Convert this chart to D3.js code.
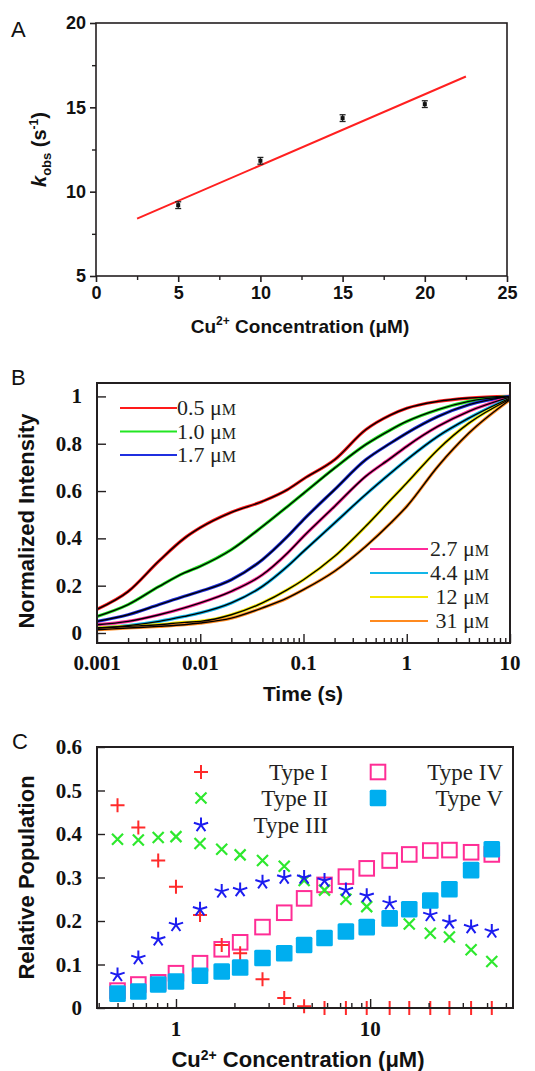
<!DOCTYPE html>
<html><head><meta charset="utf-8">
<script src="https://cdn.jsdelivr.net/npm/d3@7"></script>
<style>
html,body{margin:0;padding:0;background:#fff;}
svg{display:block;}
</style></head>
<body>
<svg id="chart" width="535" height="1071"></svg>
<script>
// ---------- Panel A data ----------
const aConc = [5, 10, 15, 20];
const aKobs = [9.2, 11.83, 14.36, 15.19];
const aErr = [0.2, 0.2, 0.2, 0.2];
const aFitX = [2.5, 22.5];
const aFitY = [8.40, 16.83];
const aXTicks = [0, 5, 10, 15, 20, 25];
const aYTicks = [5, 10, 15, 20];

// ---------- Panel B data ----------
const bTimes = [0.001, 0.002, 0.004, 0.007, 0.01, 0.02, 0.04, 0.07, 0.1, 0.2, 0.4, 0.7, 1, 2, 4, 10];
const bLabels = ["0.5", "1.0", "1.7", "2.7", "4.4", "12", "31"];
const bColors = ["#ff1a1a", "#22e622", "#1f2fe0", "#ff2a9a", "#12b6e8", "#f5e800", "#ff8a1f"];
const bCurve05 = [0.10, 0.175, 0.305, 0.40, 0.445, 0.51, 0.556, 0.606, 0.651, 0.732, 0.859, 0.922, 0.95, 0.979, 0.993, 1.0];
const bCurve10 = [0.07, 0.12, 0.197, 0.254, 0.282, 0.352, 0.45, 0.535, 0.59, 0.697, 0.796, 0.859, 0.894, 0.944, 0.979, 1.0];
const bCurve17 = [0.049, 0.077, 0.12, 0.155, 0.176, 0.225, 0.31, 0.408, 0.479, 0.606, 0.732, 0.803, 0.845, 0.915, 0.965, 1.0];
const bCurve27 = [0.035, 0.049, 0.077, 0.106, 0.127, 0.176, 0.246, 0.338, 0.408, 0.535, 0.662, 0.739, 0.789, 0.873, 0.937, 0.997];
const bCurve44 = [0.021, 0.031, 0.049, 0.07, 0.085, 0.127, 0.197, 0.282, 0.345, 0.465, 0.585, 0.676, 0.732, 0.831, 0.908, 0.993];
const bCurve12 = [0.021, 0.028, 0.035, 0.045, 0.049, 0.077, 0.127, 0.183, 0.225, 0.324, 0.451, 0.563, 0.634, 0.775, 0.887, 0.989];
const bCurve31 = [0.014, 0.021, 0.028, 0.035, 0.042, 0.063, 0.106, 0.148, 0.183, 0.261, 0.366, 0.465, 0.535, 0.704, 0.845, 0.986];
const bCurves = [bCurve05, bCurve10, bCurve17, bCurve27, bCurve44, bCurve12, bCurve31];
const bXTicks = [0.001, 0.01, 0.1, 1, 10];
const bXTickLabels = ["0.001", "0.01", "0.1", "1", "10"];
const bYTicks = [0, 0.2, 0.4, 0.6, 0.8, 1];

// ---------- Panel C data ----------
const cConc = [0.5, 0.64, 0.81, 1.0, 1.33, 1.72, 2.14, 2.79, 3.61, 4.57, 5.82, 7.5, 9.6, 12.6, 15.9, 20.4, 25.6, 33.1, 42.3];
const cType1 = [0.466, 0.415, 0.339, 0.279, 0.214, 0.145, 0.126, 0.066, 0.023, 0.004, 0, 0, 0, 0, 0, 0, 0, 0, 0];
const cType2 = [0.388, 0.386, 0.392, 0.394, 0.378, 0.365, 0.352, 0.339, 0.326, 0.293, 0.271, 0.25, 0.233, 0.21, 0.193, 0.172, 0.163, 0.134, 0.107];
const cType3 = [0.076, 0.115, 0.158, 0.191, 0.227, 0.268, 0.271, 0.289, 0.30, 0.30, 0.293, 0.271, 0.258, 0.241, 0.228, 0.214, 0.197, 0.186, 0.176];
const cType4 = [0.04, 0.054, 0.059, 0.08, 0.103, 0.135, 0.151, 0.186, 0.219, 0.252, 0.283, 0.302, 0.321, 0.339, 0.353, 0.362, 0.363, 0.358, 0.353];
const cType5 = [0.033, 0.038, 0.054, 0.061, 0.074, 0.084, 0.093, 0.115, 0.126, 0.145, 0.161, 0.176, 0.186, 0.206, 0.227, 0.247, 0.273, 0.317, 0.365];
const cTypeNames = ["Type I", "Type II", "Type III", "Type IV", "Type V"];
const cXTicks = [1, 10];
const cYTicks = [0, 0.1, 0.2, 0.3, 0.4, 0.5, 0.6];

const svg = d3.select("#chart");
const SANS = "'Liberation Sans', Arial, sans-serif";
const SERIF = "'Liberation Serif', 'Times New Roman', serif";
const AX = "#231f20";

// ================= Panel A =================
(function(){
  const L = 96, R = 507, T = 23, B = 276;
  const x = d3.scaleLinear().domain([0, 25]).range([L, R]);
  const y = d3.scaleLinear().domain([5, 20]).range([B, T]);
  const g = svg.append("g");
  g.append("rect").attr("x", L).attr("y", T).attr("width", R - L).attr("height", B - T)
    .attr("fill", "none").attr("stroke", AX).attr("stroke-width", 1.6);
  const xa = g.append("g").attr("transform", `translate(0,${B})`)
    .call(d3.axisBottom(x).tickValues(aXTicks).tickSize(6).tickPadding(4).tickFormat(d3.format("d")));
  xa.select(".domain").remove();
  xa.selectAll("line").attr("stroke", AX).attr("stroke-width", 1.6);
  xa.selectAll("text").attr("font-family", SANS).attr("font-weight", "bold").attr("font-size", 18).attr("fill", "#111");
  const xm = g.append("g").attr("transform", `translate(0,${B})`)
    .call(d3.axisBottom(x).tickValues([2.5, 7.5, 12.5, 17.5, 22.5]).tickSize(4).tickFormat(""));
  xm.select(".domain").remove();
  xm.selectAll("line").attr("stroke", AX).attr("stroke-width", 1.4);
  const ya = g.append("g").attr("transform", `translate(${L},0)`)
    .call(d3.axisLeft(y).tickValues(aYTicks).tickSize(6).tickPadding(4).tickFormat(d3.format("d")));
  ya.select(".domain").remove();
  ya.selectAll("line").attr("stroke", AX).attr("stroke-width", 1.6);
  ya.selectAll("text").attr("font-family", SANS).attr("font-weight", "bold").attr("font-size", 18).attr("fill", "#111");
  const ym = g.append("g").attr("transform", `translate(${L},0)`)
    .call(d3.axisLeft(y).tickValues([7.5, 12.5, 17.5]).tickSize(4).tickFormat(""));
  ym.select(".domain").remove();
  ym.selectAll("line").attr("stroke", AX).attr("stroke-width", 1.4);
  g.append("path").datum(aFitX.map((d, i) => [d, aFitY[i]]))
    .attr("d", d3.line().x(d => x(d[0])).y(d => y(d[1])))
    .attr("stroke", "#ff2020").attr("stroke-width", 2).attr("fill", "none");
  aConc.forEach((c, i) => {
    const cx = x(c), y1 = y(aKobs[i] - aErr[i]), y2 = y(aKobs[i] + aErr[i]);
    g.append("line").attr("x1", cx).attr("x2", cx).attr("y1", y1).attr("y2", y2).attr("stroke", "#222").attr("stroke-width", 1.3);
    [y1, y2].forEach(yy => g.append("line").attr("x1", cx - 3).attr("x2", cx + 3).attr("y1", yy).attr("y2", yy).attr("stroke", "#222").attr("stroke-width", 1.3));
    g.append("rect").attr("x", cx - 2).attr("y", y(aKobs[i]) - 2).attr("width", 4).attr("height", 4).attr("fill", "#111");
  });
  svg.append("text").attr("x", 11).attr("y", 37).text("A")
    .attr("font-family", SANS).attr("font-size", 22).attr("fill", "#111");
  const yl = svg.append("text").attr("transform", `translate(46,${(T + B) / 2}) rotate(-90)`)
    .attr("text-anchor", "middle").attr("font-family", SANS).attr("font-weight", "bold").attr("font-size", 20).attr("fill", "#111");
  yl.append("tspan").attr("font-style", "italic").text("k");
  yl.append("tspan").attr("font-size", 13).attr("dy", 5).text("obs");
  yl.append("tspan").attr("dy", -5).text(" (s");
  yl.append("tspan").attr("font-size", 12).attr("dy", -8).text("-1");
  yl.append("tspan").attr("dy", 8).text(")");
  const xl = svg.append("text").attr("x", 300).attr("y", 333).attr("text-anchor", "middle")
    .attr("font-family", SANS).attr("font-weight", "bold").attr("font-size", 19).attr("fill", "#111");
  xl.append("tspan").text("Cu");
  xl.append("tspan").attr("font-size", 12).attr("dy", -8).text("2+");
  xl.append("tspan").attr("dy", 8).text(" Concentration (\u03BCM)");
})();

// ================= Panel B =================
(function(){
  const L = 97, R = 510, T = 383, B = 643;
  const x = d3.scaleLog().domain([0.001, 10]).range([L, R]);
  const y = d3.scaleLinear().domain([-0.0423, 1.0567]).range([B, T]);
  const g = svg.append("g");
  g.append("defs").append("clipPath").attr("id", "clipB").append("rect")
    .attr("x", L).attr("y", T).attr("width", R - L).attr("height", B - T);
  const line = d3.line().x((d, i) => x(bTimes[i])).y(d => y(d)).curve(d3.curveMonotoneX);
  const cg = g.append("g").attr("clip-path", "url(#clipB)");
  bCurves.forEach((c, k) => {
    cg.append("path").attr("d", line(c)).attr("fill", "none").attr("stroke", bColors[k]).attr("stroke-width", 3.2);
  });
  bCurves.forEach((c, k) => {
    cg.append("path").attr("d", line(c)).attr("fill", "none").attr("stroke", "#000").attr("stroke-width", 1.4);
  });
  const minors = [];
  for (let e = -3; e < 1; e++) for (let m = 2; m <= 9; m++) minors.push(m * Math.pow(10, e));
  const xm = g.append("g").attr("transform", `translate(0,${B})`)
    .call(d3.axisTop(x).tickValues(minors).tickSize(5).tickFormat(""));
  xm.select(".domain").remove();
  xm.selectAll("line").attr("stroke", AX).attr("stroke-width", 1.4);
  const xa = g.append("g").attr("transform", `translate(0,${B})`)
    .call(d3.axisTop(x).tickValues(bXTicks).tickSize(9).tickFormat(""));
  xa.select(".domain").remove();
  xa.selectAll("line").attr("stroke", AX).attr("stroke-width", 1.4);
  g.selectAll(".bxl").data(bXTicks).enter().append("text").attr("class", "bxl")
    .attr("x", d => x(d)).attr("y", 670).attr("text-anchor", "middle")
    .attr("font-family", SERIF).attr("font-weight", "bold").attr("font-size", 21).attr("fill", "#111")
    .text((d, i) => bXTickLabels[i]);
  const ya = g.append("g").attr("transform", `translate(${L},0)`)
    .call(d3.axisRight(y).tickValues(bYTicks).tickSize(9).tickFormat(""));
  ya.select(".domain").remove();
  ya.selectAll("line").attr("stroke", AX).attr("stroke-width", 1.4);
  g.selectAll(".byl").data(bYTicks).enter().append("text").attr("class", "byl")
    .attr("x", 82).attr("y", d => y(d) + 7).attr("text-anchor", "end")
    .attr("font-family", SERIF).attr("font-weight", "bold").attr("font-size", 21).attr("fill", "#111")
    .text(d => d3.format("~g")(d));
  g.append("rect").attr("x", L).attr("y", T).attr("width", R - L).attr("height", B - T)
    .attr("fill", "none").attr("stroke", AX).attr("stroke-width", 2);
  const legTop = [0, 1, 2], legBot = [3, 4, 5, 6];
  legTop.forEach((k, j) => {
    const yy = 408 + j * 23.5;
    g.append("line").attr("x1", 120).attr("x2", 177).attr("y1", yy).attr("y2", yy).attr("stroke", bColors[k]).attr("stroke-width", 2.2);
    const t = g.append("text").attr("x", 177).attr("y", yy + 7).attr("font-family", SERIF).attr("font-size", 22).attr("fill", "#231f20");
    t.append("tspan").text(bLabels[k] + " \u03BC");
    t.append("tspan").attr("font-size", 16).text("M");
  });
  legBot.forEach((k, j) => {
    const yy = 549 + j * 24;
    g.append("line").attr("x1", 370).attr("x2", 428).attr("y1", yy).attr("y2", yy).attr("stroke", bColors[k]).attr("stroke-width", 2.2);
    const t = g.append("text").attr("x", 489).attr("y", yy + 7).attr("text-anchor", "end").attr("font-family", SERIF).attr("font-size", 22).attr("fill", "#231f20");
    t.append("tspan").text(bLabels[k] + " \u03BC");
    t.append("tspan").attr("font-size", 16).text("M");
  });
  svg.append("text").attr("x", 11).attr("y", 385).text("B")
    .attr("font-family", SANS).attr("font-size", 22).attr("fill", "#111");
  svg.append("text").attr("transform", `translate(34,${(T + B) / 2 + 8}) rotate(-90)`)
    .attr("text-anchor", "middle").attr("font-family", SANS).attr("font-weight", "bold").attr("font-size", 22).attr("fill", "#111")
    .text("Normalized Intensity");
  svg.append("text").attr("x", 303).attr("y", 701).attr("text-anchor", "middle")
    .attr("font-family", SANS).attr("font-weight", "bold").attr("font-size", 21).attr("fill", "#111").text("Time (s)");
})();

// ================= Panel C =================
(function(){
  const L = 97, R = 513, T = 747, B = 1008;
  const x = d3.scaleLog().domain([0.392, 54.4]).range([L, R]);
  const y = d3.scaleLinear().domain([0, 0.6]).range([B, T]);
  const g = svg.append("g");
  const red = "#ff2a2a", green = "#2ee82e", blue = "#1c1cf0", pink = "#ff2d95", cyan = "#00aeef";
  const star = (cx, cy, r) => {
    let p = "";
    for (let i = 0; i < 5; i++) {
      const a = -Math.PI / 2 + i * 2 * Math.PI / 5;
      p += `M${cx},${cy}L${cx + r * Math.cos(a)},${cy + r * Math.sin(a)}`;
    }
    return p;
  };
  const plus = (cx, cy, r) => `M${cx - r},${cy}H${cx + r}M${cx},${cy - r}V${cy + r}`;
  const cross = (cx, cy, r) => `M${cx - r},${cy - r}L${cx + r},${cy + r}M${cx - r},${cy + r}L${cx + r},${cy - r}`;
  // Type IV open squares (bottom layer)
  g.selectAll(".t4").data(cType4).enter().append("rect").attr("class", "t4")
    .attr("x", (d, i) => x(cConc[i]) - 7.3).attr("y", d => y(d) - 7.3).attr("width", 14.6).attr("height", 14.6)
    .attr("fill", "none").attr("stroke", pink).attr("stroke-width", 2);
  g.selectAll(".t1").data(cType1).enter().append("path").attr("class", "t1")
    .attr("d", (d, i) => plus(x(cConc[i]), y(d), 7)).attr("stroke", red).attr("stroke-width", 2).attr("fill", "none");
  g.selectAll(".t2").data(cType2).enter().append("path").attr("class", "t2")
    .attr("d", (d, i) => cross(x(cConc[i]), y(d), 5.5)).attr("stroke", green).attr("stroke-width", 2.2).attr("fill", "none");
  g.selectAll(".t3").data(cType3).enter().append("path").attr("class", "t3")
    .attr("d", (d, i) => star(x(cConc[i]), y(d), 7.5)).attr("stroke", blue).attr("stroke-width", 2).attr("fill", "none");
  // Type V filled squares (top layer)
  g.selectAll(".t5").data(cType5).enter().append("rect").attr("class", "t5")
    .attr("x", (d, i) => x(cConc[i]) - 8.3).attr("y", d => y(d) - 8.3).attr("width", 16.6).attr("height", 16.6)
    .attr("rx", 1.5).attr("fill", cyan);
  const minors = [];
  [0.4, 0.5, 0.6, 0.7, 0.8, 0.9].forEach(v => minors.push(v));
  for (let m = 2; m <= 9; m++) minors.push(m);
  for (let m = 20; m <= 50; m += 10) minors.push(m);
  const xm = g.append("g").attr("transform", `translate(0,${B})`)
    .call(d3.axisTop(x).tickValues(minors).tickSize(5).tickFormat(""));
  xm.select(".domain").remove();
  xm.selectAll("line").attr("stroke", AX).attr("stroke-width", 1.4);
  const xa = g.append("g").attr("transform", `translate(0,${B})`)
    .call(d3.axisTop(x).tickValues(cXTicks).tickSize(9).tickFormat(""));
  xa.select(".domain").remove();
  xa.selectAll("line").attr("stroke", AX).attr("stroke-width", 1.4);
  g.selectAll(".cxl").data(cXTicks).enter().append("text").attr("class", "cxl")
    .attr("x", d => x(d)).attr("y", 1036).attr("text-anchor", "middle")
    .attr("font-family", SERIF).attr("font-weight", "bold").attr("font-size", 21).attr("fill", "#111")
    .text(d => d);
  const ya = g.append("g").attr("transform", `translate(${L},0)`)
    .call(d3.axisRight(y).tickValues(cYTicks).tickSize(8).tickFormat(""));
  ya.select(".domain").remove();
  ya.selectAll("line").attr("stroke", AX).attr("stroke-width", 1.4);
  g.selectAll(".cyl").data(cYTicks).enter().append("text").attr("class", "cyl")
    .attr("x", 82).attr("y", d => y(d) + 7).attr("text-anchor", "end")
    .attr("font-family", SERIF).attr("font-weight", "bold").attr("font-size", 21).attr("fill", "#111")
    .text(d => d3.format("~g")(d));
  g.append("rect").attr("x", L).attr("y", T).attr("width", R - L).attr("height", B - T)
    .attr("fill", "none").attr("stroke", AX).attr("stroke-width", 2);
  const lx1 = 201, lx2 = 378, ly = [772, 798, 825];
  g.append("path").attr("d", plus(lx1, ly[0], 7)).attr("stroke", red).attr("stroke-width", 2);
  g.append("path").attr("d", cross(lx1, ly[1], 5.5)).attr("stroke", green).attr("stroke-width", 2.2);
  g.append("path").attr("d", star(lx1, ly[2], 7.5)).attr("stroke", blue).attr("stroke-width", 2);
  g.append("rect").attr("x", lx2 - 7.3).attr("y", ly[0] - 7.3).attr("width", 14.6).attr("height", 14.6)
    .attr("fill", "none").attr("stroke", pink).attr("stroke-width", 2);
  g.append("rect").attr("x", lx2 - 8.3).attr("y", ly[1] - 8.3).attr("width", 16.6).attr("height", 16.6)
    .attr("rx", 1.5).attr("fill", cyan);
  [0, 1, 2].forEach(j => g.append("text").attr("x", 328).attr("y", ly[j] + 8).attr("text-anchor", "end")
    .attr("font-family", SERIF).attr("font-size", 23).attr("fill", "#231f20").text(cTypeNames[j]));
  [3, 4].forEach((k, j) => g.append("text").attr("x", 503).attr("y", ly[j] + 8).attr("text-anchor", "end")
    .attr("font-family", SERIF).attr("font-size", 23).attr("fill", "#231f20").text(cTypeNames[k]));
  svg.append("text").attr("x", 12).attr("y", 749).text("C")
    .attr("font-family", SANS).attr("font-size", 22).attr("fill", "#111");
  svg.append("text").attr("transform", `translate(34,${(T + B) / 2}) rotate(-90)`)
    .attr("text-anchor", "middle").attr("font-family", SANS).attr("font-weight", "bold").attr("font-size", 22).attr("fill", "#111")
    .text("Relative Population");
  const xl = svg.append("text").attr("x", 298).attr("y", 1067).attr("text-anchor", "middle")
    .attr("font-family", SANS).attr("font-weight", "bold").attr("font-size", 22).attr("fill", "#111");
  xl.append("tspan").text("Cu");
  xl.append("tspan").attr("font-size", 14).attr("dy", -7).text("2+");
  xl.append("tspan").attr("dy", 7).text(" Concentration (\u03BCM)");
})();
</script>
</body></html>
